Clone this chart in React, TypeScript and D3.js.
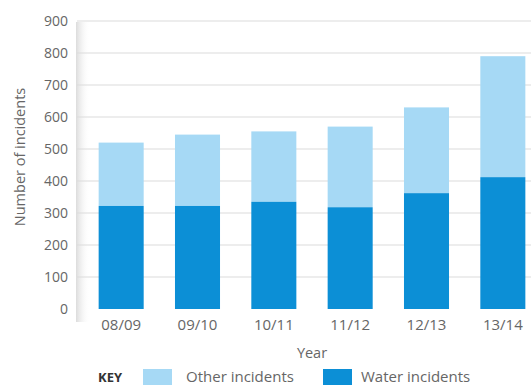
import React from "react";
import * as d3 from "d3";

const years = ["08/09", "09/10", "10/11", "11/12", "12/13", "13/14"];
const waterIncidents = [322, 322, 335, 318, 362, 412];
const otherIncidents = [198, 223, 220, 252, 268, 378];
const yTicks = [0, 100, 200, 300, 400, 500, 600, 700, 800, 900];

const W = 531;
const H = 387;
const LIGHT = "#a6d9f5";
const DARK = "#0c8fd6";
const TEXT = "#666";
const FONT = "'Open Sans', 'Noto Sans', sans-serif";

export default function App() {
  const x = d3.scaleBand<string>().domain(years).range([83, 541]).paddingInner(0.41).paddingOuter(0.205);
  const y = d3.scaleLinear().domain([0, 900]).range([309, 21]);
  const stacked = years.map((yr, i) => ({ yr, w: waterIncidents[i], o: otherIncidents[i] }));

  return (
    <svg width={W} height={H} style={{ position: "absolute", left: 0, top: 0, background: "#fff" }}>
      <defs>
        <linearGradient id="shadow" x1="0" x2="1" y1="0" y2="0">
          <stop offset="0" stopColor="#d8d8d8" stopOpacity={0.9} />
          <stop offset="1" stopColor="#ffffff" stopOpacity={0} />
        </linearGradient>
      </defs>
      <rect x={0} y={0} width={W} height={H} fill="#fff" />
      <rect x={76} y={22} width={14} height={300} fill="url(#shadow)" />
      {yTicks.map((t) => (
        <g key={t}>
          {t > 0 && (
            <line x1={77} x2={W} y1={y(t)} y2={y(t)} stroke="#dcdcdc" strokeWidth={1.2} />
          )}
          <text x={68} y={y(t)} dy="0.35em" textAnchor="end" fontSize={14} fill={TEXT} fontFamily={FONT}>
            {t}
          </text>
        </g>
      ))}
      {stacked.map((d) => (
        <g key={d.yr}>
          <rect x={x(d.yr)} y={y(d.w + d.o)} width={x.bandwidth()} height={y(d.w) - y(d.w + d.o)} fill={LIGHT} />
          <rect x={x(d.yr)} y={y(d.w)} width={x.bandwidth()} height={y(0) - y(d.w)} fill={DARK} />
          <text x={(x(d.yr) as number) + x.bandwidth() / 2} y={330} textAnchor="middle" fontSize={15} fill={TEXT} fontFamily={FONT}>
            {d.yr}
          </text>
        </g>
      ))}
      <text x={312} y={358} textAnchor="middle" fontSize={14.5} fill={TEXT} fontFamily={FONT}>Year</text>
      <text transform="translate(25,157) rotate(-90)" textAnchor="middle" fontSize={14.5} fill={TEXT} fontFamily={FONT}>
        Number of incidents
      </text>
      <text x={98} y={382} fontSize={13} fontWeight="bold" fill="#333" fontFamily={FONT}>KEY</text>
      <rect x={143} y={369} width={29} height={16} fill={LIGHT} />
      <text x={186} y={382} fontSize={15} fill={TEXT} fontFamily={FONT}>Other incidents</text>
      <rect x={323} y={369} width={29} height={16} fill={DARK} />
      <text x={361} y={382} fontSize={15} fill={TEXT} fontFamily={FONT}>Water incidents</text>
    </svg>
  );
}
